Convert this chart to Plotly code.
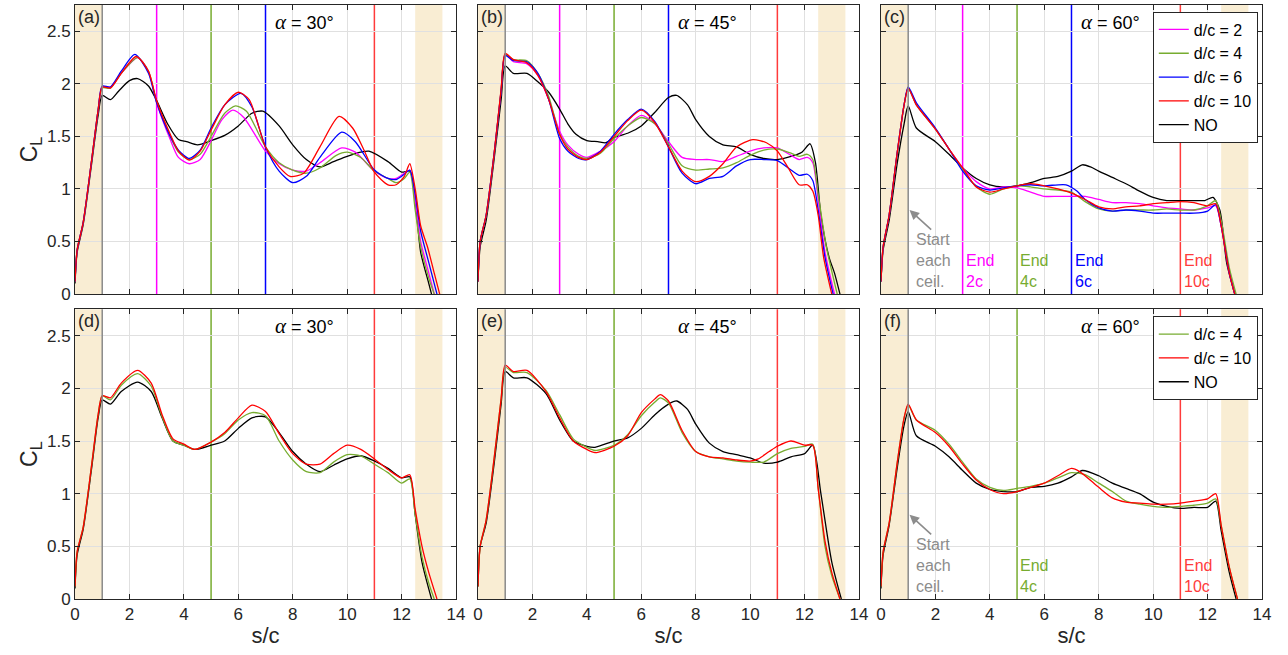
import plotly.graph_objects as go

# ---------------- data: lift coefficient C_L along s/c ----------------
# Panel (a): alpha = 30 deg
a_x_red = [0, 0.08, 0.3, 0.6, 0.85, 1.0, 1.3, 1.7, 2.25, 2.7, 3.0, 3.5, 3.8, 4.2, 4.6, 5.0, 5.5, 6.0, 6.4, 7.0, 7.5, 7.9, 8.4, 9.0, 9.7, 10.2, 10.6, 11.0, 11.5, 11.8, 12.1, 12.3, 12.5, 12.7, 12.95, 13.2, 13.4]
a_y_red = [0.12, 0.42, 0.68, 1.25, 1.75, 1.97, 1.96, 2.10, 2.26, 2.12, 1.84, 1.52, 1.36, 1.275, 1.36, 1.56, 1.80, 1.92, 1.85, 1.40, 1.21, 1.12, 1.15, 1.40, 1.69, 1.58, 1.38, 1.16, 1.04, 1.04, 1.12, 1.24, 1.00, 0.65, 0.45, 0.20, 0.0]
a_x_blue = [0, 0.08, 0.3, 0.6, 0.85, 1.0, 1.3, 1.7, 2.2, 2.7, 3.0, 3.5, 3.8, 4.2, 4.6, 5.0, 5.5, 6.1, 6.5, 7.0, 7.5, 8.0, 8.5, 9.0, 9.8, 10.3, 11.0, 11.5, 11.8, 12.1, 12.3, 12.5, 12.7, 13.0, 13.3]
a_y_blue = [0.12, 0.42, 0.68, 1.25, 1.75, 1.98, 1.97, 2.12, 2.28, 2.10, 1.82, 1.50, 1.37, 1.29, 1.37, 1.58, 1.80, 1.91, 1.78, 1.40, 1.17, 1.06, 1.12, 1.30, 1.54, 1.45, 1.18, 1.10, 1.09, 1.14, 1.18, 0.95, 0.60, 0.30, 0.0]
a_x_mag = [0, 0.08, 0.3, 0.6, 0.85, 1.0, 1.3, 1.7, 2.3, 2.7, 3.0, 3.5, 3.8, 4.2, 4.6, 5.0, 5.4, 5.8, 6.2, 7.0, 7.5, 8.0, 8.5, 9.0, 9.8, 10.3, 11.0, 11.5, 11.8, 12.1, 12.3, 12.5, 12.7, 13.0, 13.2]
a_y_mag = [0.12, 0.42, 0.68, 1.25, 1.75, 1.97, 1.97, 2.10, 2.25, 2.12, 1.82, 1.47, 1.30, 1.24, 1.28, 1.46, 1.66, 1.75, 1.68, 1.36, 1.24, 1.18, 1.17, 1.25, 1.39, 1.35, 1.17, 1.10, 1.10, 1.15, 1.18, 0.90, 0.50, 0.20, 0.0]
a_x_grn = [0, 0.08, 0.3, 0.6, 0.85, 1.0, 1.3, 1.7, 2.3, 2.7, 3.0, 3.5, 3.8, 4.2, 4.6, 5.0, 5.5, 5.9, 6.3, 7.0, 7.5, 8.0, 8.5, 9.0, 9.6, 10.0, 10.5, 11.0, 11.5, 11.8, 12.1, 12.3, 12.5, 12.7, 13.0, 13.2]
a_y_grn = [0.12, 0.42, 0.68, 1.25, 1.75, 1.96, 1.96, 2.10, 2.25, 2.12, 1.83, 1.50, 1.35, 1.28, 1.33, 1.50, 1.72, 1.79, 1.74, 1.40, 1.25, 1.18, 1.15, 1.20, 1.32, 1.35, 1.30, 1.17, 1.10, 1.06, 1.10, 1.16, 0.80, 0.45, 0.15, 0.0]
a_x_blk = [0, 0.08, 0.3, 0.6, 0.85, 1.0, 1.3, 1.6, 2.0, 2.3, 2.7, 3.0, 3.4, 3.8, 4.1, 4.5, 5.0, 5.5, 6.0, 6.5, 6.9, 7.5, 8.0, 8.5, 9.0, 9.5, 10.0, 10.5, 10.8, 11.5, 12.0, 12.3, 12.5, 12.7, 13.0, 13.1]
a_y_blk = [0.10, 0.40, 0.66, 1.22, 1.70, 1.89, 1.85, 1.93, 2.03, 2.05, 1.98, 1.84, 1.62, 1.47, 1.45, 1.42, 1.46, 1.51, 1.60, 1.72, 1.74, 1.60, 1.42, 1.28, 1.21, 1.26, 1.31, 1.35, 1.36, 1.26, 1.16, 1.17, 0.90, 0.40, 0.10, 0.0]

# Panel (b): alpha = 45 deg
b_x_red = [0, 0.08, 0.3, 0.6, 0.85, 1.0, 1.3, 1.8, 2.2, 2.6, 3.0, 3.3, 3.7, 4.0, 4.5, 5.0, 5.5, 6.0, 6.5, 7.0, 7.5, 8.0, 8.5, 9.0, 9.5, 10.1, 10.6, 11.0, 11.4, 11.8, 12.1, 12.3, 12.5, 12.7, 13.0]
b_y_red = [0.12, 0.50, 0.75, 1.35, 1.95, 2.29, 2.23, 2.20, 2.08, 1.85, 1.52, 1.38, 1.30, 1.28, 1.35, 1.50, 1.65, 1.75, 1.63, 1.40, 1.17, 1.07, 1.12, 1.24, 1.40, 1.47, 1.44, 1.36, 1.20, 1.04, 1.04, 0.98, 0.75, 0.35, 0.0]
b_x_blue = [0, 0.08, 0.3, 0.6, 0.85, 1.0, 1.3, 1.8, 2.2, 2.6, 3.0, 3.3, 3.7, 4.0, 4.5, 5.0, 5.5, 6.0, 6.5, 7.0, 7.5, 8.0, 8.5, 9.0, 9.5, 10.0, 10.5, 11.0, 11.5, 11.8, 12.1, 12.3, 12.5, 12.75, 13.05]
b_y_blue = [0.12, 0.50, 0.75, 1.35, 1.93, 2.27, 2.22, 2.21, 2.10, 1.85, 1.48, 1.36, 1.29, 1.28, 1.36, 1.52, 1.66, 1.76, 1.64, 1.40, 1.15, 1.05, 1.10, 1.12, 1.22, 1.28, 1.28, 1.27, 1.18, 1.13, 1.14, 1.08, 0.80, 0.35, 0.0]
b_x_mag = [0, 0.08, 0.3, 0.6, 0.85, 1.0, 1.3, 1.8, 2.2, 2.6, 3.0, 3.3, 3.7, 4.0, 4.5, 5.0, 5.5, 6.0, 6.5, 7.0, 7.5, 8.0, 8.5, 9.0, 9.5, 10.0, 10.5, 11.0, 11.5, 11.8, 12.1, 12.3, 12.5, 12.75, 13.1]
b_y_mag = [0.12, 0.50, 0.75, 1.35, 1.94, 2.28, 2.21, 2.19, 2.08, 1.85, 1.55, 1.42, 1.33, 1.30, 1.36, 1.45, 1.60, 1.70, 1.62, 1.45, 1.30, 1.28, 1.28, 1.26, 1.31, 1.36, 1.39, 1.39, 1.32, 1.28, 1.30, 1.25, 0.90, 0.40, 0.0]
b_x_grn = [0, 0.08, 0.3, 0.6, 0.85, 1.0, 1.3, 1.8, 2.2, 2.6, 3.0, 3.3, 3.7, 4.0, 4.5, 5.0, 5.5, 6.0, 6.5, 7.0, 7.5, 8.0, 8.5, 9.0, 9.5, 10.0, 10.5, 11.0, 11.5, 11.8, 12.1, 12.3, 12.5, 12.8, 13.2]
b_y_grn = [0.12, 0.50, 0.75, 1.35, 1.94, 2.28, 2.23, 2.22, 2.10, 1.88, 1.52, 1.40, 1.31, 1.29, 1.34, 1.48, 1.60, 1.68, 1.62, 1.43, 1.22, 1.18, 1.19, 1.20, 1.25, 1.32, 1.37, 1.38, 1.34, 1.31, 1.33, 1.28, 0.95, 0.45, 0.0]
b_x_blk = [0, 0.08, 0.3, 0.6, 0.85, 1.0, 1.3, 1.8, 2.2, 2.6, 3.0, 3.3, 3.6, 4.0, 4.4, 4.7, 5.0, 5.5, 6.0, 6.5, 7.0, 7.3, 7.7, 8.0, 8.5, 9.0, 9.5, 10.0, 10.5, 11.0, 11.5, 11.9, 12.2, 12.4, 12.6, 12.9, 13.1, 13.3]
b_y_blk = [0.12, 0.45, 0.70, 1.30, 1.85, 2.17, 2.10, 2.10, 2.02, 1.92, 1.76, 1.62, 1.52, 1.46, 1.45, 1.44, 1.49, 1.53, 1.60, 1.73, 1.87, 1.89, 1.80, 1.66, 1.50, 1.42, 1.40, 1.33, 1.29, 1.28, 1.31, 1.35, 1.43, 1.25, 0.75, 0.35, 0.20, 0.0]

# Panel (c): alpha = 60 deg
c_x_red = [0, 0.08, 0.3, 0.6, 0.85, 1.0, 1.3, 2.0, 2.5, 3.0, 3.5, 4.0, 4.5, 5.0, 5.5, 6.0, 6.5, 7.0, 7.5, 8.0, 8.5, 9.0, 9.5, 10.0, 10.5, 11.0, 11.5, 12.0, 12.3, 12.5, 12.8, 13.0]
c_y_red = [0.12, 0.45, 0.75, 1.35, 1.80, 1.96, 1.80, 1.57, 1.38, 1.20, 1.02, 0.97, 1.00, 1.03, 1.05, 1.03, 1.00, 0.96, 0.90, 0.83, 0.81, 0.83, 0.84, 0.86, 0.87, 0.88, 0.87, 0.84, 0.86, 0.65, 0.20, 0.0]
c_x_blue = [0, 0.08, 0.3, 0.6, 0.85, 1.0, 1.3, 2.0, 2.5, 3.0, 3.5, 4.0, 4.5, 5.0, 5.5, 6.0, 6.8, 7.2, 7.5, 8.0, 8.5, 9.0, 9.5, 10.0, 10.5, 11.0, 11.5, 12.0, 12.3, 12.5, 12.8, 13.0]
c_y_blue = [0.12, 0.45, 0.75, 1.35, 1.80, 1.97, 1.82, 1.58, 1.38, 1.17, 1.03, 0.99, 1.01, 1.03, 1.04, 1.03, 1.04, 0.98, 0.90, 0.82, 0.79, 0.80, 0.79, 0.77, 0.77, 0.77, 0.77, 0.79, 0.85, 0.65, 0.20, 0.0]
c_x_mag = [0, 0.08, 0.3, 0.6, 0.85, 1.0, 1.3, 2.0, 2.5, 3.0, 3.5, 4.0, 4.5, 5.0, 5.5, 6.0, 6.5, 7.0, 7.5, 8.0, 8.5, 9.0, 9.5, 10.0, 10.5, 11.0, 11.5, 12.0, 12.3, 12.5, 12.8, 13.0]
c_y_mag = [0.12, 0.45, 0.75, 1.35, 1.80, 1.96, 1.80, 1.57, 1.38, 1.20, 1.07, 1.00, 1.02, 1.01, 0.97, 0.93, 0.93, 0.93, 0.93, 0.90, 0.87, 0.87, 0.86, 0.84, 0.82, 0.81, 0.80, 0.82, 0.84, 0.65, 0.20, 0.0]
c_x_grn = [0, 0.08, 0.3, 0.6, 0.85, 1.0, 1.3, 2.0, 2.5, 3.0, 3.5, 4.0, 4.5, 5.0, 5.5, 6.0, 6.5, 7.0, 7.5, 8.0, 8.5, 9.0, 9.5, 10.0, 10.5, 11.0, 11.5, 12.0, 12.3, 12.5, 12.8, 13.05]
c_y_grn = [0.12, 0.45, 0.75, 1.35, 1.80, 1.96, 1.80, 1.57, 1.38, 1.19, 1.02, 0.95, 1.00, 1.03, 1.02, 1.00, 0.99, 0.97, 0.88, 0.81, 0.79, 0.80, 0.80, 0.80, 0.81, 0.80, 0.80, 0.84, 0.89, 0.70, 0.25, 0.0]
c_x_blk = [0, 0.08, 0.3, 0.6, 0.85, 1.0, 1.3, 2.0, 2.5, 3.0, 3.5, 4.0, 4.5, 5.0, 5.5, 6.0, 6.5, 7.0, 7.4, 7.7, 8.0, 8.5, 9.0, 9.5, 10.0, 10.5, 11.0, 11.5, 11.9, 12.2, 12.45, 12.7, 13.0]
c_y_blk = [0.12, 0.42, 0.70, 1.25, 1.62, 1.79, 1.58, 1.45, 1.33, 1.20, 1.10, 1.04, 1.02, 1.03, 1.06, 1.10, 1.12, 1.17, 1.23, 1.21, 1.17, 1.11, 1.05, 0.98, 0.92, 0.89, 0.89, 0.89, 0.89, 0.92, 0.80, 0.30, 0.0]

# Panel (d): alpha = 30 deg
d_x_red = [0, 0.08, 0.3, 0.6, 0.85, 1.0, 1.3, 1.7, 2.3, 2.8, 3.2, 3.6, 4.0, 4.4, 5.0, 5.5, 6.0, 6.5, 7.0, 7.5, 8.0, 8.5, 9.0, 9.5, 10.0, 10.5, 11.0, 11.5, 12.0, 12.3, 12.5, 12.75, 13.0, 13.3]
d_y_red = [0.12, 0.45, 0.68, 1.25, 1.75, 1.93, 1.91, 2.05, 2.17, 2.05, 1.75, 1.52, 1.47, 1.42, 1.49, 1.58, 1.72, 1.84, 1.78, 1.57, 1.38, 1.28, 1.28, 1.38, 1.46, 1.42, 1.33, 1.23, 1.15, 1.18, 0.85, 0.50, 0.25, 0.0]
d_x_grn = [0, 0.08, 0.3, 0.6, 0.85, 1.0, 1.3, 1.7, 2.3, 2.8, 3.2, 3.6, 4.0, 4.4, 5.0, 5.5, 6.0, 6.5, 7.0, 7.5, 8.0, 8.5, 9.0, 9.5, 10.0, 10.5, 11.0, 11.5, 12.0, 12.3, 12.5, 12.75, 13.0, 13.2]
d_y_grn = [0.12, 0.45, 0.68, 1.25, 1.75, 1.93, 1.89, 2.03, 2.14, 2.02, 1.73, 1.50, 1.46, 1.42, 1.49, 1.57, 1.70, 1.77, 1.74, 1.50, 1.32, 1.21, 1.20, 1.30, 1.37, 1.36, 1.28, 1.20, 1.10, 1.14, 0.80, 0.40, 0.15, 0.0]
d_x_blk = [0, 0.08, 0.3, 0.6, 0.85, 1.0, 1.3, 1.7, 2.3, 2.8, 3.2, 3.6, 4.0, 4.4, 5.0, 5.5, 6.0, 6.5, 7.0, 7.5, 8.0, 8.5, 9.0, 9.5, 10.0, 10.5, 11.0, 11.5, 12.0, 12.3, 12.5, 12.75, 13.1]
d_y_blk = [0.10, 0.42, 0.66, 1.22, 1.72, 1.89, 1.85, 1.97, 2.06, 1.97, 1.72, 1.50, 1.46, 1.42, 1.46, 1.50, 1.62, 1.72, 1.73, 1.58, 1.40, 1.28, 1.21, 1.27, 1.33, 1.36, 1.31, 1.24, 1.15, 1.16, 0.80, 0.35, 0.0]

# Panel (e): alpha = 45 deg
e_x_red = [0, 0.08, 0.3, 0.6, 0.85, 1.0, 1.3, 1.8, 2.5, 3.0, 3.5, 4.0, 4.3, 5.0, 5.5, 6.0, 6.5, 6.7, 7.0, 7.5, 8.0, 8.5, 9.0, 9.5, 10.0, 10.3, 10.7, 11.0, 11.5, 12.0, 12.3, 12.5, 12.75, 13.0, 13.3]
e_y_red = [0.12, 0.50, 0.75, 1.35, 1.90, 2.22, 2.16, 2.17, 1.97, 1.72, 1.50, 1.42, 1.39, 1.45, 1.55, 1.77, 1.90, 1.94, 1.88, 1.60, 1.40, 1.35, 1.34, 1.32, 1.31, 1.33, 1.40, 1.45, 1.50, 1.46, 1.46, 1.05, 0.55, 0.25, 0.0]
e_x_grn = [0, 0.08, 0.3, 0.6, 0.85, 1.0, 1.3, 1.8, 2.5, 3.0, 3.5, 4.0, 4.3, 5.0, 5.5, 6.0, 6.5, 6.7, 7.0, 7.5, 8.0, 8.5, 9.0, 9.5, 10.0, 10.5, 11.0, 11.5, 12.0, 12.3, 12.5, 12.75, 13.0, 13.3]
e_y_grn = [0.12, 0.50, 0.75, 1.35, 1.90, 2.20, 2.15, 2.15, 1.98, 1.75, 1.52, 1.44, 1.41, 1.46, 1.56, 1.74, 1.87, 1.91, 1.86, 1.58, 1.40, 1.35, 1.33, 1.31, 1.30, 1.30, 1.38, 1.43, 1.45, 1.47, 1.05, 0.50, 0.22, 0.0]
e_x_blk = [0, 0.08, 0.3, 0.6, 0.85, 1.0, 1.3, 1.8, 2.5, 3.0, 3.5, 4.0, 4.3, 5.0, 5.5, 6.0, 6.5, 7.0, 7.3, 7.7, 8.0, 8.5, 9.0, 9.5, 10.0, 10.5, 11.0, 11.5, 12.0, 12.3, 12.6, 13.0, 13.35]
e_y_blk = [0.12, 0.50, 0.72, 1.30, 1.85, 2.16, 2.10, 2.10, 1.95, 1.70, 1.50, 1.45, 1.44, 1.50, 1.53, 1.62, 1.75, 1.85, 1.88, 1.80, 1.66, 1.48, 1.40, 1.37, 1.34, 1.29, 1.30, 1.35, 1.38, 1.46, 1.00, 0.35, 0.0]

# Panel (f): alpha = 60 deg
f_x_red = [0, 0.08, 0.3, 0.6, 0.85, 1.0, 1.3, 2.0, 2.5, 3.0, 3.5, 4.0, 4.5, 5.0, 5.5, 6.0, 6.5, 7.0, 7.3, 8.0, 8.5, 9.0, 9.5, 10.0, 10.5, 11.0, 11.5, 12.0, 12.3, 12.5, 12.8, 13.1]
f_y_red = [0.12, 0.45, 0.72, 1.30, 1.72, 1.85, 1.70, 1.58, 1.45, 1.28, 1.13, 1.04, 1.00, 1.02, 1.06, 1.10, 1.17, 1.24, 1.21, 1.06, 0.96, 0.92, 0.91, 0.90, 0.90, 0.91, 0.93, 0.95, 1.00, 0.70, 0.30, 0.0]
f_x_grn = [0, 0.08, 0.3, 0.6, 0.85, 1.0, 1.3, 2.0, 2.5, 3.0, 3.5, 4.0, 4.5, 5.0, 5.5, 6.0, 6.5, 7.0, 7.5, 8.0, 8.5, 9.0, 9.5, 10.0, 10.5, 11.0, 11.5, 12.0, 12.3, 12.5, 12.8, 13.1]
f_y_grn = [0.12, 0.45, 0.72, 1.30, 1.72, 1.84, 1.70, 1.60, 1.47, 1.30, 1.14, 1.06, 1.03, 1.05, 1.07, 1.10, 1.15, 1.20, 1.18, 1.10, 1.02, 0.93, 0.90, 0.88, 0.87, 0.88, 0.89, 0.91, 0.95, 0.70, 0.30, 0.0]
f_x_blk = [0, 0.08, 0.3, 0.6, 0.85, 1.0, 1.3, 2.0, 2.5, 3.0, 3.5, 4.0, 4.5, 5.0, 5.5, 6.0, 6.5, 7.0, 7.4, 8.0, 8.5, 9.0, 9.5, 10.0, 10.5, 11.0, 11.5, 12.0, 12.3, 12.5, 12.8, 13.05]
f_y_blk = [0.10, 0.42, 0.70, 1.25, 1.65, 1.78, 1.55, 1.45, 1.35, 1.22, 1.10, 1.04, 1.02, 1.02, 1.06, 1.07, 1.10, 1.16, 1.22, 1.17, 1.10, 1.05, 1.00, 0.92, 0.88, 0.86, 0.87, 0.87, 0.93, 0.65, 0.25, 0.0]

# axis ticks
x_ticks = [0, 2, 4, 6, 8, 10, 12, 14]
y_ticks = [0, 0.5, 1, 1.5, 2, 2.5]
y_tick_text = ["0", "0.5", "1", "1.5", "2", "2.5"]

# ceiling extents, start line and end-of-ceiling markers
shade_bands = [(0, 1), (12.5, 13.5)]
start_line = 1
ends_top = [(3, "2c", "#ff00ff"), (5, "4c", "#77ac30"), (7, "6c", "#0000ff"), (11, "10c", "#ff3b3b")]
ends_bottom = [(5, "4c", "#77ac30"), (11, "10c", "#ff3b3b")]

panel_labels = ["(a)", "(b)", "(c)", "(d)", "(e)", "(f)"]
alphas = [30, 45, 60, 30, 45, 60]

MAG, GRN, BLU, RED, BLK = "#ff00ff", "#77ac30", "#0000ff", "#ff0000", "#000000"
BEIGE = "#f9edd3"
AX = "#262626"
FONT = "Liberation Sans, Arial, sans-serif"

# ---------------- layout geometry ----------------
W, H = 1288, 655
ML, MR, MT, MB = 75, 26, 4.5, 55.7
x_domains = [[0.0, 0.3210], [0.3395, 0.6605], [0.6790, 1.0]]
y_domains = [[0.5133, 1.0], [0.0, 0.4876]]

fig = go.Figure()

panels = [
    [("d/c = 2", MAG, a_x_mag, a_y_mag), ("d/c = 4", GRN, a_x_grn, a_y_grn), ("d/c = 6", BLU, a_x_blue, a_y_blue), ("d/c = 10", RED, a_x_red, a_y_red), ("NO", BLK, a_x_blk, a_y_blk)],
    [("d/c = 2", MAG, b_x_mag, b_y_mag), ("d/c = 4", GRN, b_x_grn, b_y_grn), ("d/c = 6", BLU, b_x_blue, b_y_blue), ("d/c = 10", RED, b_x_red, b_y_red), ("NO", BLK, b_x_blk, b_y_blk)],
    [("d/c = 2", MAG, c_x_mag, c_y_mag), ("d/c = 4", GRN, c_x_grn, c_y_grn), ("d/c = 6", BLU, c_x_blue, c_y_blue), ("d/c = 10", RED, c_x_red, c_y_red), ("NO", BLK, c_x_blk, c_y_blk)],
    [("d/c = 4", GRN, d_x_grn, d_y_grn), ("d/c = 10", RED, d_x_red, d_y_red), ("NO", BLK, d_x_blk, d_y_blk)],
    [("d/c = 4", GRN, e_x_grn, e_y_grn), ("d/c = 10", RED, e_x_red, e_y_red), ("NO", BLK, e_x_blk, e_y_blk)],
    [("d/c = 4", GRN, f_x_grn, f_y_grn), ("d/c = 10", RED, f_x_red, f_y_red), ("NO", BLK, f_x_blk, f_y_blk)],
]

# black curve drawn first so the coloured curves sit on top of it
draw_order = {"NO": 0, "d/c = 2": 1, "d/c = 4": 2, "d/c = 6": 3, "d/c = 10": 4}

shapes = []
annotations = []
layout_axes = {}

for i in range(6):
    row, col = divmod(i, 3)
    n = i + 1
    xa = "x" if n == 1 else f"x{n}"
    ya = "y" if n == 1 else f"y{n}"
    xkey = "xaxis" if n == 1 else f"xaxis{n}"
    ykey = "yaxis" if n == 1 else f"yaxis{n}"

    legend_name = None
    if i == 2:
        legend_name = "legend"
    elif i == 5:
        legend_name = "legend2"

    series = panels[i]
    names = [s[0] for s in series]
    for name, color, xs, ys in sorted(series, key=lambda s: draw_order[s[0]]):
        fig.add_trace(go.Scatter(
            x=xs, y=ys, mode="lines", name=name,
            line=dict(color=color, width=1.3, shape="spline", smoothing=0.7),
            xaxis=xa, yaxis=ya,
            showlegend=legend_name is not None,
            legend=legend_name if legend_name else "legend",
            legendrank=names.index(name) + 1,
            hoverinfo="skip",
        ))

    layout_axes[xkey] = dict(
        domain=x_domains[col], range=[0, 14], anchor=ya,
        tickvals=x_ticks, ticktext=[str(t) for t in x_ticks],
        showticklabels=(row == 1),
        ticks="inside", ticklen=5, tickcolor=AX, tickwidth=1,
        showline=True, linecolor=AX, linewidth=1, mirror="ticks",
        showgrid=True, gridcolor="#e0e0e0", gridwidth=1, zeroline=False,
        tickfont=dict(family=FONT, size=17, color=AX),
        title=dict(text="s/c", font=dict(family=FONT, size=22, color=AX), standoff=4) if row == 1 else None,
    )
    layout_axes[ykey] = dict(
        domain=y_domains[row], range=[0, 2.75], anchor=xa,
        tickvals=y_ticks, ticktext=y_tick_text,
        showticklabels=(col == 0),
        ticks="inside", ticklen=5, tickcolor=AX, tickwidth=1,
        showline=True, linecolor=AX, linewidth=1, mirror="ticks",
        showgrid=True, gridcolor="#e0e0e0", gridwidth=1, zeroline=False,
        tickfont=dict(family=FONT, size=17, color=AX),
        title=dict(text="C<sub>L</sub>", font=dict(family=FONT, size=23, color=AX), standoff=2) if col == 0 else None,
    )

    # ceiling bands
    for x0, x1 in shade_bands:
        shapes.append(dict(type="rect", xref=xa, yref=f"{ya} domain", x0=x0, x1=x1, y0=0, y1=1,
                           fillcolor=BEIGE, line=dict(width=0), layer="below"))
    # start line
    shapes.append(dict(type="line", xref=xa, yref=f"{ya} domain", x0=start_line, x1=start_line, y0=0, y1=1,
                       line=dict(color="#8a8a8a", width=1.5), layer="above"))
    # end-of-ceiling lines
    ends = ends_top if row == 0 else ends_bottom
    for xe, lab, col_e in ends:
        shapes.append(dict(type="line", xref=xa, yref=f"{ya} domain", x0=xe, x1=xe, y0=0, y1=1,
                           line=dict(color=col_e, width=1.5), layer="below"))

    # panel letter and angle
    annotations.append(dict(xref=f"{xa} domain", yref=f"{ya} domain", x=0.003, y=1.0, xanchor="left", yanchor="top",
                            text=panel_labels[i], showarrow=False,
                            font=dict(family=FONT, size=18, color=AX)))
    annotations.append(dict(xref=xa, yref=ya, x=8.45, y=2.59, xanchor="center", yanchor="middle",
                            text=f"<span style='font-family:Liberation Serif, Times New Roman, serif;font-style:italic;font-size:21px'>α</span> = {alphas[i]}°",
                            showarrow=False, font=dict(family=FONT, size=18, color="#000000")))

    # text labels on the right-hand column
    if col == 2:
        annotations.append(dict(xref=xa, yref=ya, x=1.2, y=0.02, xanchor="left", yanchor="bottom",
                                text="Start<br>each<br>ceil.", align="left", showarrow=False,
                                font=dict(family=FONT, size=16, color="#8c8c8c")))
        annotations.append(dict(xref=xa, yref=ya, x=1.05, y=0.80, ax=1.9, ay=0.60,
                                axref=xa, ayref=ya, text="", showarrow=True,
                                arrowhead=2, arrowsize=1.2, arrowwidth=1.6, arrowcolor="#8c8c8c"))
        for xe, lab, col_e in ends:
            annotations.append(dict(xref=xa, yref=ya, x=xe + 0.05, y=0.02, xanchor="left", yanchor="bottom",
                                    text=f"End<br>{lab}", align="left", showarrow=False,
                                    font=dict(family=FONT, size=16, color=col_e)))

legend_common = dict(
    xanchor="left", yanchor="top", bgcolor="#ffffff",
    bordercolor=AX, borderwidth=1,
    font=dict(family=FONT, size=16, color="#000000"),
    itemwidth=30, tracegroupgap=0, traceorder="normal",
)

fig.update_layout(
    width=W, height=H,
    margin=dict(l=ML, r=MR, t=MT, b=MB, pad=0),
    paper_bgcolor="#ffffff", plot_bgcolor="#ffffff",
    shapes=shapes, annotations=annotations,
    legend=dict(x=0.908, y=0.989, **legend_common),
    legend2=dict(x=0.908, y=0.476, **legend_common),
    showlegend=True,
    **layout_axes,
)

fig.write_html("out.html")
